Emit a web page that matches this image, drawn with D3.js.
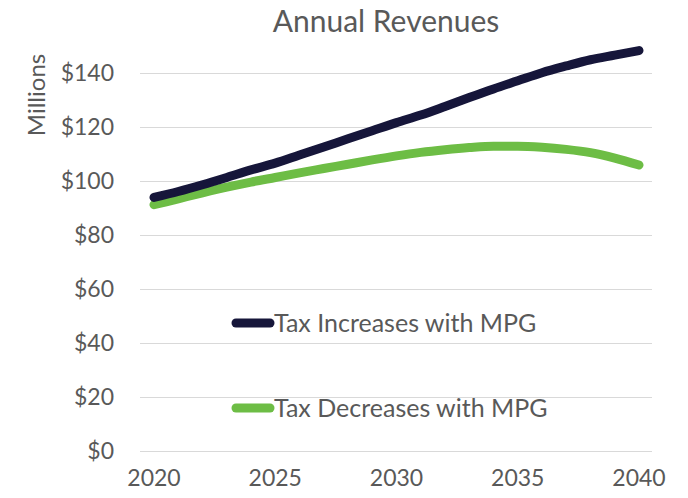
<!DOCTYPE html>
<html>
<head>
<meta charset="utf-8">
<script src="https://cdn.jsdelivr.net/npm/d3@7"></script>
<style>
  body { margin: 0; background: #fff; }
  text { font-family: Lato, "Open Sans", sans-serif; fill: #595959; }
</style>
</head>
<body>
<div id="myChart"></div>
<script>
let width = 688;
let height = 498;

// Data
var years = d3.range(2020, 2041);
var taxIncreases = [93.8, 96.0, 98.5, 101.2, 104.0, 106.5, 109.5, 112.5, 115.5, 118.5, 121.5,
                    124.3, 127.5, 130.8, 134.0, 137.0, 140.0, 142.5, 144.8, 146.5, 148.2];
var taxDecreases = [91.1, 93.3, 95.5, 97.6, 99.5, 101.2, 102.9, 104.5, 106.1, 107.7, 109.2,
                    110.5, 111.5, 112.3, 112.8, 112.8, 112.4, 111.6, 110.4, 108.4, 105.8];
var seriesNames = ["Tax Increases with MPG", "Tax Decreases with MPG"];
var yTicks = [0, 20, 40, 60, 80, 100, 120, 140];
var xTicks = [2020, 2025, 2030, 2035, 2040];

var colors = ["#16163a", "#6dbd45"];

let svg = d3.select("#myChart").append("svg")
  .attr("width", width)
  .attr("height", height)

// scales
var x = d3.scaleLinear().domain([2020, 2040]).range([154, 639]);
var y = d3.scaleLinear().domain([0, 140]).range([450.7, 72.7]);

// gridlines
svg.append("g")
  .selectAll("line")
  .data(yTicks)
  .enter()
  .append("line")
  .attr("x1", 140)
  .attr("x2", 652)
  .attr("y1", d => Math.round(y(d)) + 0.5)
  .attr("y2", d => Math.round(y(d)) + 0.5)
  .attr("stroke", "#d9d9d9")
  .attr("stroke-width", 1);

// y axis labels
svg.append("g")
  .selectAll("text")
  .data(yTicks)
  .enter()
  .append("text")
  .attr("x", 114)
  .attr("y", d => y(d))
  .attr("dy", "0.35em")
  .attr("text-anchor", "end")
  .style("font-size", "23px")
  .text(d => "$" + d);

// x axis labels
svg.append("g")
  .selectAll("text")
  .data(xTicks)
  .enter()
  .append("text")
  .attr("x", d => x(d))
  .attr("y", 486)
  .attr("text-anchor", "middle")
  .style("font-size", "23px")
  .text(d => d);

// title + axis title
svg.append("text")
  .attr("x", 386)
  .attr("y", 32)
  .attr("text-anchor", "middle")
  .style("font-size", "30px")
  .text("Annual Revenues");

svg.append("text")
  .attr("transform", "translate(45,95) rotate(-90)")
  .attr("text-anchor", "middle")
  .style("font-size", "24px")
  .text("Millions");

// lines
var line = d3.line()
  .x((d, i) => x(years[i]))
  .y(d => y(d))
  .curve(d3.curveMonotoneX);

svg.append("g")
  .selectAll("path")
  .data([taxDecreases, taxIncreases])
  .enter()
  .append("path")
  .attr("d", line)
  .attr("fill", "none")
  .attr("stroke", (d, i) => colors[1 - i])
  .attr("stroke-width", 9)
  .attr("stroke-linecap", "round")
  .attr("stroke-linejoin", "round");

// legend
var legendY = [323, 408];
var legend = svg.append("g")
  .selectAll("g")
  .data(seriesNames)
  .enter()
  .append("g")
  .attr("transform", (d, i) => "translate(0," + legendY[i] + ")");

legend.append("line")
  .attr("x1", 236)
  .attr("x2", 270)
  .attr("stroke", (d, i) => colors[i])
  .attr("stroke-width", 9)
  .attr("stroke-linecap", "round");

legend.append("text")
  .attr("x", 274)
  .attr("dy", "0.35em")
  .style("font-size", "25px")
  .text(d => d);
</script>
</body>
</html>
